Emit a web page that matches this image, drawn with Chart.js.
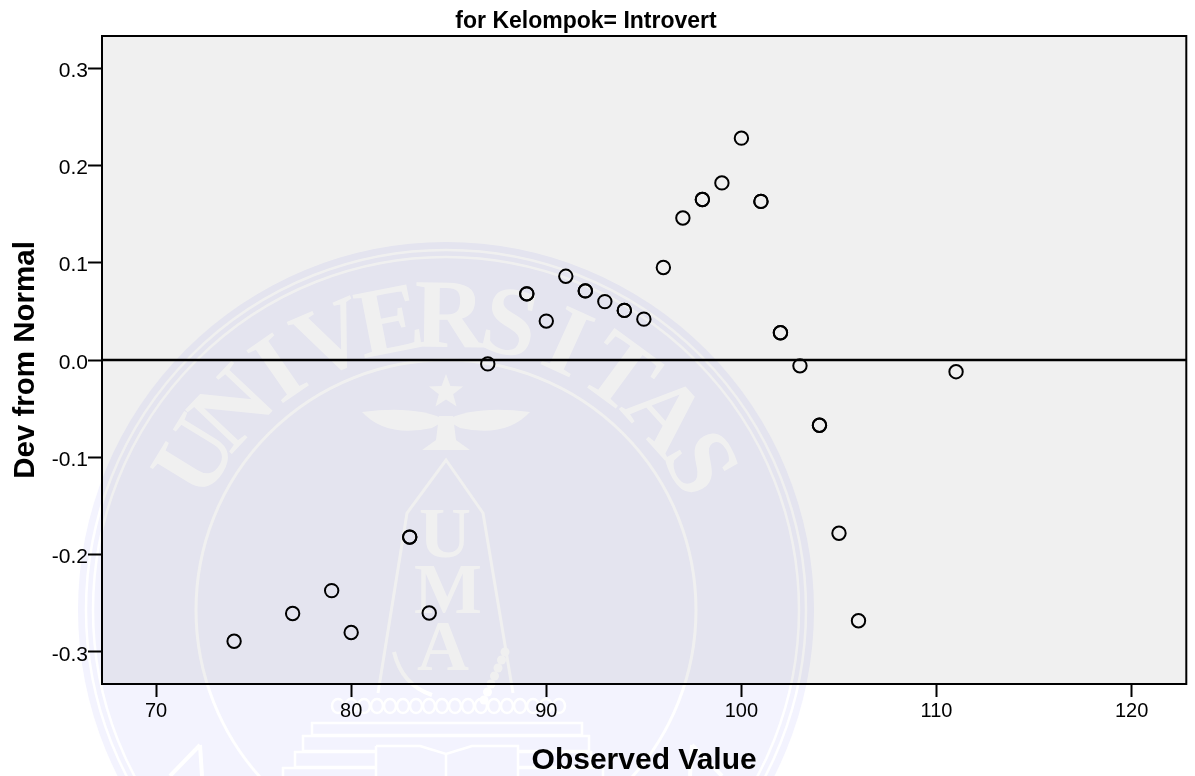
<!DOCTYPE html>
<html>
<head>
<meta charset="utf-8">
<script src="https://cdn.jsdelivr.net/npm/chart.js@4"></script>
<style>html,body{margin:0;padding:0;background:#fff}#w{width:1195px;height:776px}canvas{display:block}</style>
</head>
<body>
<div id="w"><canvas id="c" width="1195" height="776"></canvas></div>
<script>
const chartTitle = "for Kelompok= Introvert";
const xTitle = "Observed Value";
const yTitle = "Dev from Normal";
const observed = [74,77,79,80,83,83,84,87,89,89,90,91,92,92,93,94,94,95,96,97,98,98,99,100,101,101,102,102,103,104,104,105,106,111];
const deviation = [-0.289,-0.2605,-0.237,-0.280,-0.182,-0.182,-0.260,-0.004,0.068,0.068,0.040,0.086,0.071,0.071,0.060,0.051,0.051,0.042,0.095,0.146,0.165,0.165,0.182,0.228,0.163,0.163,0.028,0.028,-0.006,-0.067,-0.067,-0.178,-0.268,-0.012];
const xRange = [67.23,122.8];
const yRange = [-0.333,0.333];

function buildWatermark(){
  const o=document.createElement('canvas');o.width=1195;o.height=776;
  const g=o.getContext('2d');
  const cx=446,cy=610;
  g.fillStyle='#fff';g.fillRect(0,0,1195,776);
  g.fillStyle='#f3f3fe';g.beginPath();g.arc(cx,cy,368,0,Math.PI*2);g.fill();
  g.strokeStyle='#fff';g.fillStyle='#fff';
  [[360,2.5],[353,2.5],[250,3]].forEach(([r,w])=>{g.lineWidth=w;g.beginPath();g.arc(cx,cy,r,0,Math.PI*2);g.stroke();});
  // arc lettering
  const word="UNIVERSITAS";
  g.font='bold 98px "Liberation Serif"';g.textAlign='center';g.textBaseline='alphabetic';
  for(let i=0;i<word.length;i++){
    const a=(-58.5+i*11.85)*Math.PI/180;
    g.save();g.translate(cx,cy);g.rotate(a);g.fillText(word[i],0,-263);g.restore();
  }
  // star
  g.beginPath();
  for(let i=0;i<10;i++){const r=i%2?7.5:18,a=-Math.PI/2+i*Math.PI/5;g.lineTo(cx+r*Math.cos(a),392+r*Math.sin(a));}
  g.closePath();g.fill();
  // bird
  [-1,1].forEach(s=>{
    g.beginPath();g.moveTo(cx,420);
    g.quadraticCurveTo(cx+s*30,405,cx+s*84,412);
    g.quadraticCurveTo(cx+s*60,438,cx+s*14,428);
    g.closePath();g.fill();
  });
  g.beginPath();g.moveTo(cx-7,416);g.lineTo(cx+7,416);g.lineTo(cx+10,440);g.lineTo(cx+24,450);g.lineTo(cx-24,450);g.lineTo(cx-10,440);g.closePath();g.fill();
  // tower
  g.lineWidth=3;g.beginPath();g.moveTo(378,693);g.lineTo(407,513);g.lineTo(446,460);g.lineTo(483,513);g.lineTo(513,693);g.stroke();
  g.font='bold 72px "Liberation Serif"';
  g.fillText("U",445,557);g.fillText("M",448,613);g.fillText("A",443,670);
  // garland
  g.lineWidth=2.5;
  for(let x=338;x<=566;x+=13){g.beginPath();g.ellipse(x,706,6,7,0,0,Math.PI*2);g.stroke();}
  for(let i=0;i<7;i++){g.beginPath();g.arc(498-i*3.5+7,652+i*8,4.5,0,Math.PI*2);g.fill();}
  g.lineWidth=4;g.beginPath();g.moveTo(394,652);g.quadraticCurveTo(402,685,432,695);g.stroke();
  // plinth and book
  g.lineWidth=2.5;
  [[312,723,270,12],[303,736,286,15],[295,752,296,15],[283,768,320,20]].forEach(r=>g.strokeRect(...r));
  g.fillStyle='#f3f3fe';g.fillRect(376,746,142,40);
  g.beginPath();g.moveTo(376,746);g.lineTo(420,746);g.lineTo(446,754);g.lineTo(472,746);g.lineTo(518,746);g.lineTo(518,790);g.moveTo(376,746);g.lineTo(376,790);g.moveTo(446,754);g.lineTo(446,790);g.stroke();
  g.lineWidth=4;[[-1,200],[1,692]].forEach(([s,x])=>{g.beginPath();g.moveTo(x,745);g.lineTo(x-s*-30,776);g.moveTo(x,745);g.lineTo(x+s*-2,776);g.stroke();});
  return o;
}
const wm=buildWatermark();

const backdrop={id:'backdrop',
  beforeDraw(ch){const c=ch.ctx,a=ch.chartArea;c.save();
    c.fillStyle='#fff';c.fillRect(0,0,ch.width,ch.height);
    c.fillStyle='#f0f0f0';c.fillRect(a.left,a.top,a.width,a.height);
    c.globalCompositeOperation='multiply';c.drawImage(wm,0,0);c.restore();},
  beforeDatasetsDraw(ch){const c=ch.ctx,a=ch.chartArea;c.save();c.strokeStyle='#000';c.lineWidth=2;c.strokeRect(a.left,a.top,a.width,a.height);c.restore();},
  afterLayout(ch){ch.titleBlock.left=0;ch.titleBlock.right=1172;}
};

new Chart(document.getElementById('c'),{
  type:'scatter',
  data:{datasets:[
    {label:'Reference',data:xRange.map(x=>({x,y:0})),showLine:true,borderColor:'#000',borderWidth:2.5,pointRadius:0,order:2},
    {label:'Dev from Normal',data:observed.map((x,i)=>({x,y:deviation[i]})),backgroundColor:'transparent',borderColor:'#000',borderWidth:2,pointRadius:6.7,pointHoverRadius:6.7,order:1}
  ]},
  options:{
    responsive:false,animation:false,
    layout:{padding:{left:0,right:8,top:0,bottom:0}},
    plugins:{legend:{display:false},tooltip:{enabled:false},
      title:{display:true,text:chartTitle,color:'#000',font:{family:'"Liberation Sans"',size:23,weight:'bold',lineHeight:1.2},padding:{top:8,bottom:0.4}}},
    scales:{
      x:{type:'linear',min:xRange[0],max:xRange[1],
        afterFit(s){s.height=92;},
        grid:{drawOnChartArea:false,drawTicks:true,tickLength:13,tickWidth:2,tickColor:'#000'},
        border:{display:false},
        ticks:{stepSize:10,includeBounds:false,color:'#000',padding:2,maxRotation:0,font:{family:'"Liberation Sans"',size:20}},
        title:{display:true,text:xTitle,color:'#000',font:{family:'"Liberation Sans"',size:30,weight:'bold'},padding:{top:16,bottom:-3}}},
      y:{type:'linear',min:yRange[0],max:yRange[1],
        afterFit(s){s.width=102;},
        grid:{drawOnChartArea:false,drawTicks:true,tickLength:14,tickWidth:2,tickColor:'#000'},
        border:{display:false},
        ticks:{stepSize:0.1,includeBounds:false,color:'#000',padding:0,labelOffset:3,font:{family:'"Liberation Sans"',size:21},callback:v=>v.toFixed(1)},
        title:{display:true,text:yTitle,color:'#000',font:{family:'"Liberation Sans"',size:29.5,weight:'bold'},padding:{top:8,bottom:0}}}
    }
  },
  plugins:[backdrop]
});
</script>
</body>
</html>
